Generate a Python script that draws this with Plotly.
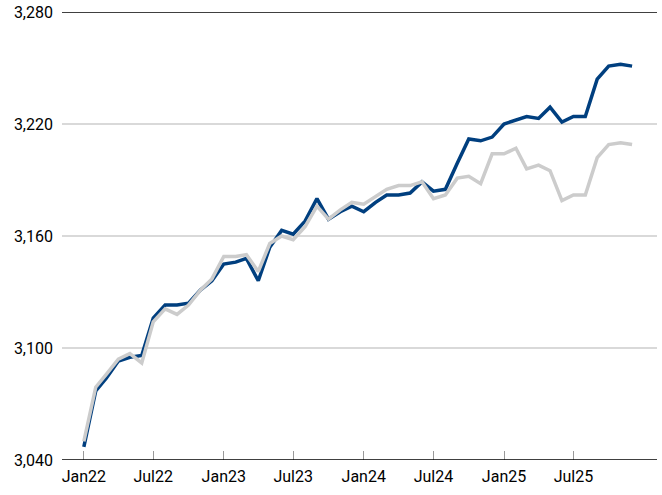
import plotly.graph_objects as go
import pandas as pd

dates = pd.date_range("2022-01-01", "2025-12-01", freq="MS")

series_blue = [
    3047, 3077, 3084, 3093, 3095, 3096, 3116, 3123, 3123, 3124, 3131, 3136,
    3145, 3146, 3148, 3136, 3154, 3163, 3161, 3168, 3180, 3169, 3173, 3176,
    3173, 3178, 3182, 3182, 3183, 3189, 3184, 3185, 3199, 3212, 3211, 3213,
    3220, 3222, 3224, 3223, 3229, 3221, 3224, 3224, 3244, 3251, 3252, 3251,
]
series_grey = [
    3050, 3079, 3086, 3094, 3097, 3092, 3114, 3121, 3118, 3123, 3131, 3137,
    3149, 3149, 3150, 3141, 3156, 3160, 3158, 3165, 3176, 3169, 3174, 3178,
    3177, 3181, 3185, 3187, 3187, 3189, 3180, 3182, 3191, 3192, 3188, 3204,
    3204, 3207, 3196, 3198, 3195, 3179, 3182, 3182, 3202, 3209, 3210, 3209,
]

x_ticks = ["2022-01-01", "2022-07-01", "2023-01-01", "2023-07-01",
           "2024-01-01", "2024-07-01", "2025-01-01", "2025-07-01"]
x_labels = ["Jan22", "Jul22", "Jan23", "Jul23", "Jan24", "Jul24", "Jan25", "Jul25"]
y_ticks = [3040, 3100, 3160, 3220, 3280]
y_labels = ["3,040", "3,100", "3,160", "3,220", "3,280"]

fig = go.Figure()
fig.add_trace(go.Scatter(x=dates, y=series_blue, mode="lines",
                         line=dict(color="#003F7F", width=3.5), showlegend=False))
fig.add_trace(go.Scatter(x=dates, y=series_grey, mode="lines",
                         line=dict(color="#CCCCCC", width=3.5), showlegend=False))

fig.update_layout(
    width=662, height=495,
    margin=dict(l=62, r=5, t=12, b=35),
    plot_bgcolor="white", paper_bgcolor="white",
    font=dict(family="Roboto", size=16, color="#000000"),
)
fig.update_xaxes(
    type="date", range=["2021-11-05", "2026-02-04"],
    tickvals=x_ticks, ticktext=x_labels, automargin=False,
    ticks="inside", ticklen=9, tickwidth=1, tickcolor="#999999",
    ticklabelstandoff=5,
    showgrid=False, showline=False, zeroline=False,
)
fig.update_yaxes(
    range=[3040, 3280], tickvals=y_ticks, ticktext=y_labels, automargin=False,
    showgrid=True, gridcolor="#D9D9D9", gridwidth=1.5,
    zeroline=False, showline=False, ticks="", ticklabelstandoff=8,
    ticklabeloverflow="allow",
)
fig.add_hline(y=3040, line=dict(color="black", width=1.5))
fig.add_hline(y=3280, line=dict(color="black", width=1.5))

fig.write_html("out.html", config={"displayModeBar": False},
               post_script="document.body.style.margin='0';")
